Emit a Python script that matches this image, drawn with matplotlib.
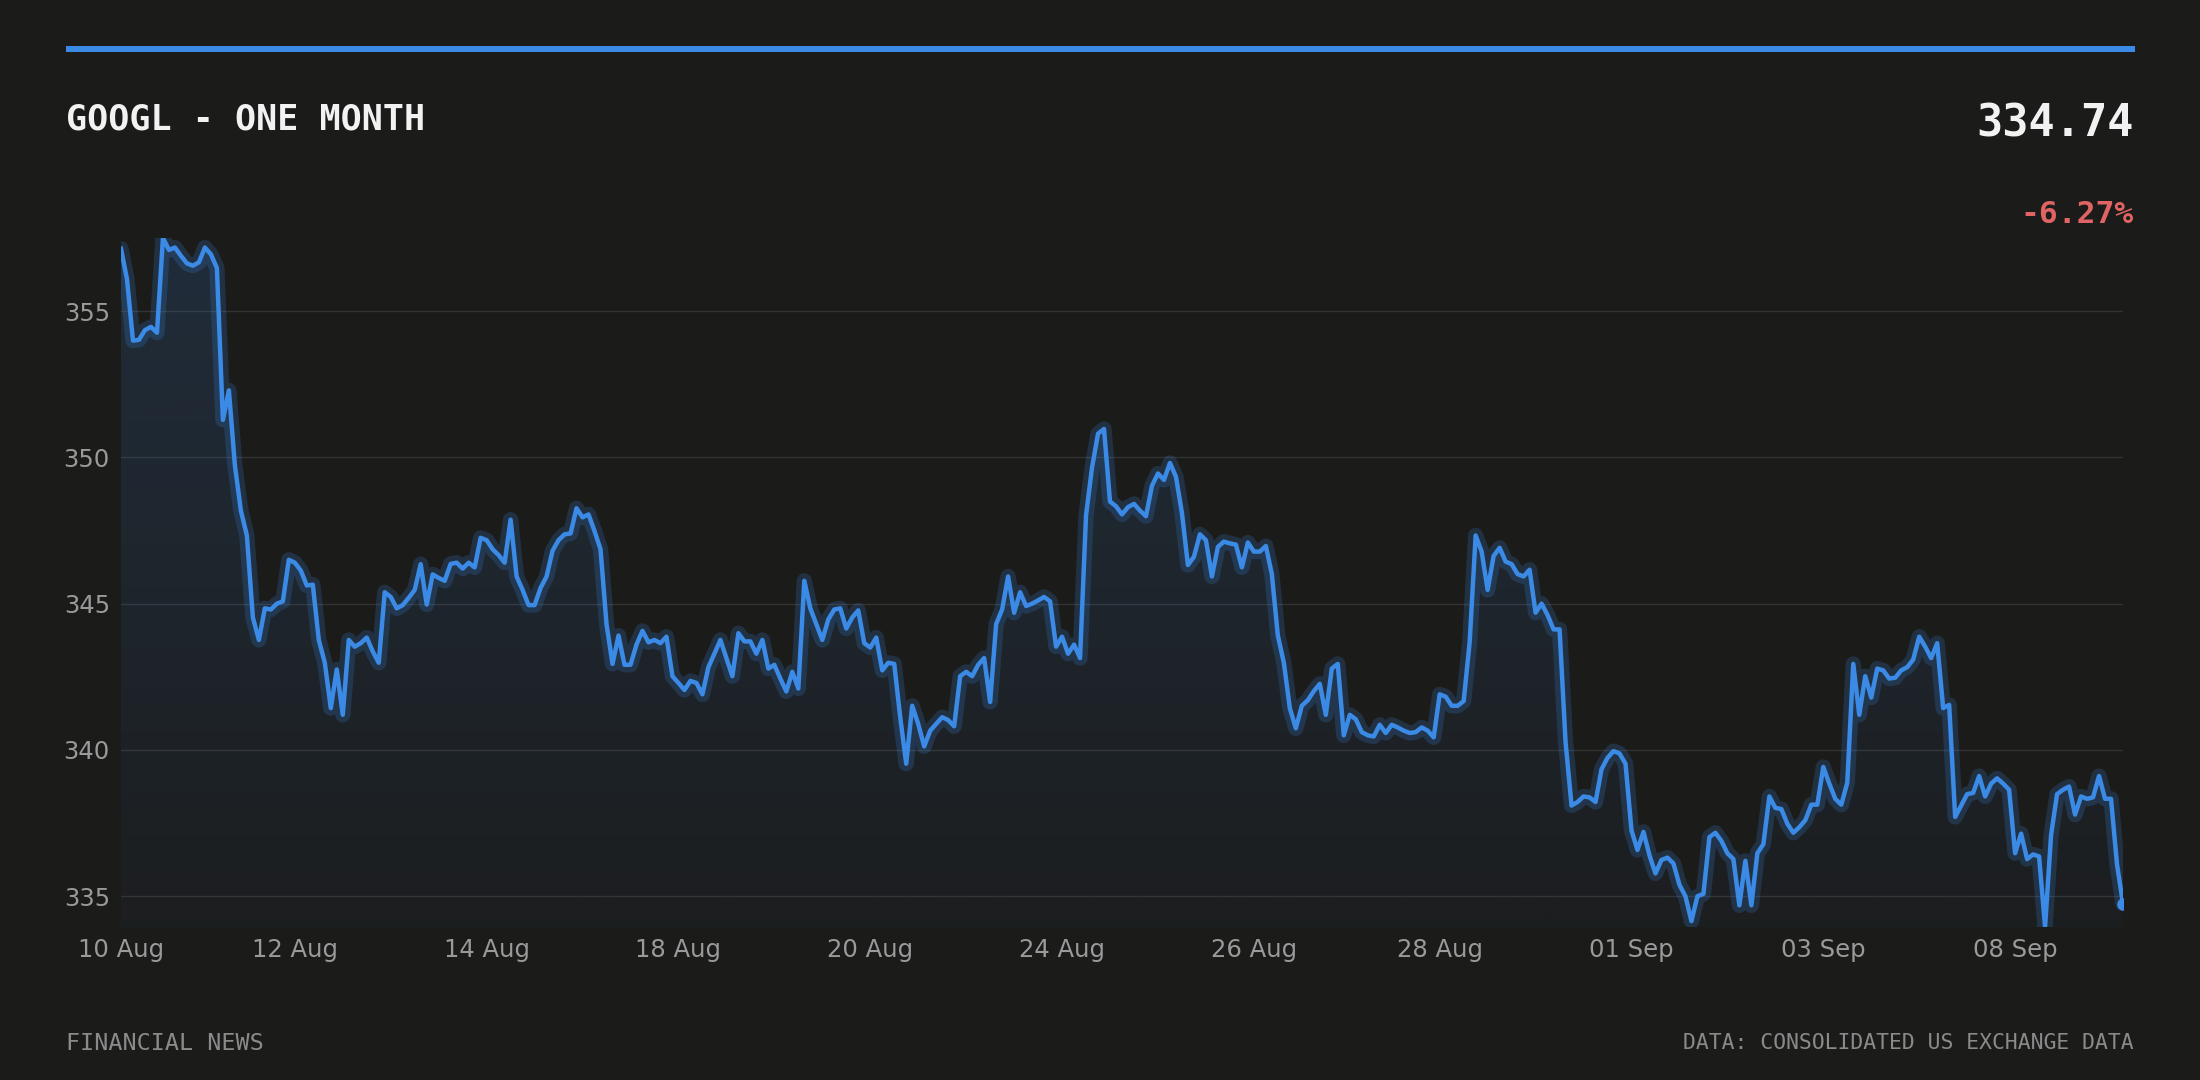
import matplotlib
matplotlib.use("Agg")
import matplotlib.pyplot as plt
from matplotlib.colors import to_rgb
from matplotlib.patches import Rectangle, PathPatch
import numpy as np

# chart data
ticker = "GOOGL"
period = "ONE MONTH"
source = "DATA: CONSOLIDATED US EXCHANGE DATA"
brand = "FINANCIAL NEWS"

prices = [
    357.13, 356.09, 353.99, 354.02, 354.35, 354.46, 354.26, 357.50, 357.09, 357.17,
    356.89, 356.63, 356.55, 356.67, 357.17, 356.94, 356.47, 351.28, 352.29, 349.73,
    348.18, 347.33, 344.53, 343.76, 344.84, 344.80, 345.00, 345.08, 346.50, 346.40,
    346.13, 345.62, 345.65, 343.76, 342.98, 341.43, 342.75, 341.20, 343.76, 343.53,
    343.65, 343.84, 343.37, 342.98, 345.39, 345.23, 344.84, 344.95, 345.20, 345.47,
    346.35, 344.97, 346.00, 345.88, 345.78, 346.36, 346.40, 346.20, 346.40, 346.24,
    347.25,
    347.17, 346.86, 346.66, 346.40, 347.87, 345.93, 345.47, 344.95, 344.95, 345.54,
    345.93, 346.81, 347.17, 347.37, 347.40, 348.26, 347.95, 348.05, 347.48, 346.86,
    344.30, 342.94, 343.91, 342.91, 342.91, 343.60, 344.07, 343.68, 343.76, 343.65,
    343.87, 342.52, 342.29, 342.05, 342.36, 342.29, 341.90, 342.83, 343.29, 343.76,
    343.14, 342.52, 343.99, 343.71, 343.71, 343.29, 343.76, 342.78, 342.91, 342.44,
    342.00, 342.67, 342.10, 345.78, 344.84, 344.30, 343.76, 344.46, 344.80, 344.84,
    344.15, 344.53, 344.77, 343.65, 343.50, 343.84, 342.72, 342.98, 342.94, 341.12,
    339.53, 341.51, 340.89, 340.12, 340.66, 340.89, 341.12, 341.02, 340.81, 342.52,
    342.67, 342.52, 342.91, 343.14, 341.64, 344.30, 344.80, 345.93, 344.69, 345.39,
    344.92, 345.00, 345.11, 345.23, 345.08, 343.53, 343.87, 343.29, 343.60, 343.14,
    348.02, 349.65, 350.81, 350.97, 348.49, 348.33, 348.05, 348.30, 348.41, 348.18,
    347.99, 349.03, 349.45, 349.23, 349.81, 349.34, 348.10, 346.32, 346.60, 347.37,
    347.17, 345.93, 346.94, 347.12, 347.06, 347.02, 346.24, 347.09, 346.78, 346.78,
    346.97, 346.01, 343.91, 342.98, 341.43, 340.74, 341.51, 341.70, 342.01, 342.26,
    341.20, 342.78, 342.94, 340.50, 341.20, 341.05, 340.61, 340.50, 340.46, 340.86,
    340.58, 340.86, 340.77, 340.66, 340.58, 340.61, 340.77, 340.66, 340.43, 341.90,
    341.82, 341.51, 341.51, 341.67, 343.68, 347.33, 346.78, 345.47, 346.63, 346.91,
    346.44, 346.35, 346.01, 345.93, 346.16, 344.69, 345.00, 344.61, 344.12, 344.12,
    340.27, 338.10, 338.22, 338.41, 338.38, 338.22, 339.34, 339.73, 339.96, 339.88,
    339.53, 337.25, 336.58, 337.20, 336.40, 335.78, 336.24, 336.32, 336.12, 335.39,
    335.00, 334.15, 335.00, 335.08, 337.02, 337.17, 336.89, 336.47, 336.27, 334.69,
    336.21, 334.69, 336.47, 336.78, 338.41, 338.02, 337.98, 337.48, 337.17, 337.36,
    337.60, 338.13, 338.13, 339.42, 338.85, 338.33, 338.13, 338.88, 342.94, 341.20,
    342.52, 341.79, 342.78, 342.72, 342.44, 342.47, 342.72, 342.83, 343.09, 343.87,
    343.53, 343.14, 343.65, 341.43, 341.54, 337.71, 338.10, 338.49, 338.53, 339.11,
    338.41, 338.85, 339.03, 338.85, 338.64, 336.47, 337.14, 336.27, 336.43, 336.36,
    333.95, 337.09, 338.49, 338.64, 338.75, 337.79, 338.41, 338.33, 338.38, 339.11,
    338.33, 338.33, 336.09, 334.74,
]

tick_index = [0, 29, 61, 93, 125, 157, 189, 220, 252, 284, 316]
tick_labels = ["10 Aug", "12 Aug", "14 Aug", "18 Aug", "20 Aug", "24 Aug",
               "26 Aug", "28 Aug", "01 Sep", "03 Sep", "08 Sep"]
y_ticks = [335, 340, 345, 350, 355]

BG = "#1b1b1a"
BLUE = "#3b8ae6"
GRID = "#333333"
MUTED = "#9a9a9a"
FOOT = "#8a8a8a"
WHITE = "#f2f2f2"
RED = "#e06464"
MONO = "DejaVu Sans Mono"

x = np.arange(len(prices))
y = np.array(prices)
change = (y[-1] - y[0]) / y[0] * 100
ymin, ymax = y.min(), y.max()

fig = plt.figure(figsize=(22, 10.8), dpi=100, facecolor=BG)
ax = fig.add_axes([0.055, 0.1417, 0.91, 0.638])
ax.set_facecolor(BG)

# gradient under the line, clipped to the area below the price
fill = ax.fill_between(x, y, ymin, facecolor="none", edgecolor="none")
clip = PathPatch(fill.get_paths()[0], transform=ax.transData,
                 facecolor="none", edgecolor="none")
ax.add_patch(clip)
grad = np.zeros((256, 1, 4))
grad[..., :3] = to_rgb(BLUE)
grad[:, 0, 3] = np.linspace(0.03, 0.16, 256)
img = ax.imshow(grad, aspect="auto", origin="lower",
                extent=[x[0], x[-1], ymin, ymax], zorder=1)
img.set_clip_path(clip)

# glow + line + end marker
ax.plot(x, y, color=BLUE, lw=11, alpha=0.2, solid_joinstyle="round",
        solid_capstyle="round", zorder=2)
ax.plot(x, y, color=BLUE, lw=3.2, solid_joinstyle="round", zorder=3)
ax.plot(x[-1], y[-1], "o", color=BLUE, ms=8, zorder=4)

ax.set_xlim(x[0], x[-1])
ax.set_ylim(ymin, ymax)
ax.set_yticks(y_ticks)
ax.set_xticks(tick_index)
ax.set_xticklabels(tick_labels)
ax.yaxis.grid(True, color=GRID, lw=1)
ax.set_axisbelow(True)
ax.tick_params(length=0, colors=MUTED, labelsize=17.5, pad=8)
for s in ax.spines.values():
    s.set_visible(False)

# header
fig.add_artist(Rectangle((0.03, 0.9518), 0.9403, 0.0056, transform=fig.transFigure,
                         facecolor=BLUE, edgecolor="none"))
fig.text(0.03, 0.8803, f"{ticker} - {period}", family=MONO, weight="bold",
         fontsize=25.2, color=WHITE, ha="left", va="baseline")
fig.text(0.9700, 0.8734, f"{y[-1]:.2f}", family=MONO, weight="bold",
         fontsize=31.4, color=WHITE, ha="right", va="baseline")
fig.text(0.9700, 0.7932, f"{change:+.2f}%", family=MONO, weight="bold",
         fontsize=22.6, color=RED, ha="right", va="baseline")

# footer
fig.text(0.03, 0.0278, brand, family=MONO, fontsize=16.8, color=FOOT,
         ha="left", va="baseline")
fig.text(0.9700, 0.0284, source, family=MONO, fontsize=15.4, color=FOOT,
         ha="right", va="baseline")

fig.savefig("out.png", dpi=100, facecolor=BG)
